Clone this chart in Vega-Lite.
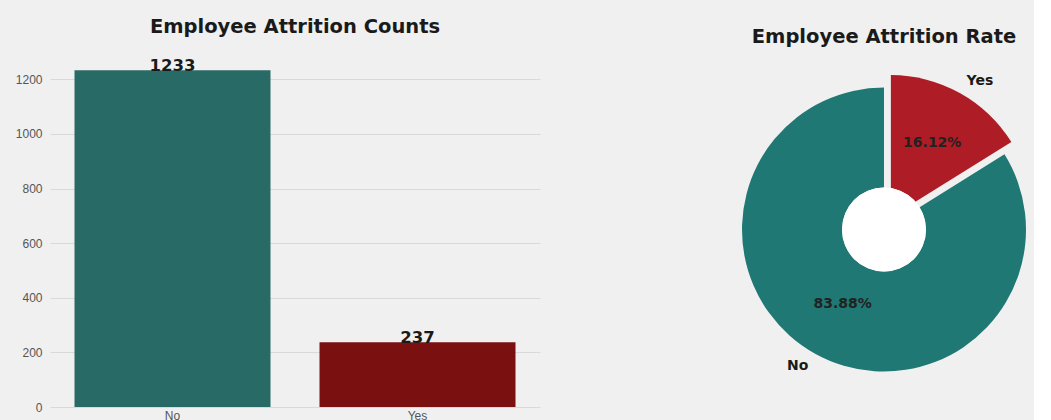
{
  "$schema": "https://vega.github.io/schema/vega-lite/v6.json",
  "background": "#f0f0f0",
  "padding": {"left": 15, "top": 16, "right": 0, "bottom": 0},
  "data": {"values": [
    {"Attrition": "No", "count": 1233, "rate": 0.8388},
    {"Attrition": "Yes", "count": 237, "rate": 0.1612}
  ]},
  "config": {
    "view": {"stroke": null},
    "title": {"font": "DejaVu Sans", "fontSize": 19.5, "fontWeight": "bold", "color": "#1a1a1a", "anchor": "middle"}
  },
  "spacing": 194,
  "hconcat": [
    {
      "title": {"text": "Employee Attrition Counts", "offset": 15},
      "width": 490,
      "height": 355,
      "encoding": {
        "x": {"field": "Attrition", "type": "nominal", "sort": ["No", "Yes"],
          "scale": {"paddingInner": 0.2, "paddingOuter": 0.1},
          "axis": {"title": null, "labelAngle": 0, "ticks": false, "domain": false, "grid": false,
            "labelFont": "Liberation Sans", "labelFontSize": 12, "labelColor": "#555555", "labelPadding": 3}},
        "y": {"field": "count", "type": "quantitative", "scale": {"domain": [0, 1300]},
          "axis": {"title": null, "values": [0, 200, 400, 600, 800, 1000, 1200], "format": "d", "ticks": false, "domain": false,
            "grid": true, "gridColor": "#d9d9d9", "gridWidth": 1.2,
            "labelFont": "Liberation Sans", "labelFontSize": 12, "labelColor": "#555555", "labelPadding": 8}}
      },
      "layer": [
        {"mark": {"type": "bar"},
         "encoding": {"color": {"field": "Attrition", "type": "nominal",
           "scale": {"domain": ["No", "Yes"], "range": ["#286a65", "#7a1010"]}, "legend": null}}},
        {"mark": {"type": "text", "font": "DejaVu Sans", "fontSize": 16.5, "fontWeight": "bold", "color": "#1a1a1a", "baseline": "alphabetic", "dy": 1},
         "encoding": {"text": {"field": "count", "type": "quantitative"}}}
      ]
    },
    {
      "title": {"text": "Employee Attrition Rate", "offset": 5},
      "width": 300,
      "height": 355,
      "transform": [
        {"stack": "count", "groupby": [], "sort": [{"field": "Attrition", "order": "descending"}], "as": ["start", "end"]}
      ],
      "layer": [
        {"transform": [{"filter": "datum.Attrition === 'No'"}],
         "mark": {"type": "arc", "outerRadius": 142, "color": "#1f7874"},
         "encoding": {"theta": {"field": "start", "type": "quantitative", "stack": null, "scale": {"domain": [0, 1470]}}, "theta2": {"field": "end"}}},
        {"transform": [{"filter": "datum.Attrition === 'Yes'"}],
         "mark": {"type": "arc", "outerRadius": 142, "color": "#ae1c25", "xOffset": 6.9, "yOffset": -12.4},
         "encoding": {"theta": {"field": "start", "type": "quantitative", "stack": null}, "theta2": {"field": "end"}}},
        {"mark": {"type": "arc", "outerRadius": 42, "theta": 0, "theta2": 6.2832, "color": "#ffffff"},
         "encoding": {}},
        {"mark": {"type": "text", "radius": 85.2, "xOffset": 6.9, "yOffset": -12.4, "font": "DejaVu Sans", "fontSize": 14, "fontWeight": "bold", "color": "#222222", "align": "center", "baseline": "middle"},
         "encoding": {"theta": {"field": "count", "type": "quantitative", "stack": true},
           "order": {"field": "Attrition", "sort": "descending"},
           "opacity": {"condition": {"test": "datum.Attrition === 'Yes'", "value": 1}, "value": 0},
           "text": {"field": "rate", "type": "quantitative", "format": ".2%"}}},
        {"mark": {"type": "text", "radius": 85.2, "font": "DejaVu Sans", "fontSize": 14, "fontWeight": "bold", "color": "#222222", "align": "center", "baseline": "middle"},
         "encoding": {"theta": {"field": "count", "type": "quantitative", "stack": true},
           "order": {"field": "Attrition", "sort": "descending"},
           "opacity": {"condition": {"test": "datum.Attrition === 'No'", "value": 1}, "value": 0},
           "text": {"field": "rate", "type": "quantitative", "format": ".2%"}}},
        {"mark": {"type": "text", "radius": 156, "xOffset": 6.9, "yOffset": -12.4, "font": "DejaVu Sans", "fontSize": 14, "fontWeight": "bold", "color": "#1a1a1a", "align": "left", "baseline": "middle"},
         "encoding": {"theta": {"field": "count", "type": "quantitative", "stack": true},
           "order": {"field": "Attrition", "sort": "descending"},
           "opacity": {"condition": {"test": "datum.Attrition === 'Yes'", "value": 1}, "value": 0},
           "text": {"field": "Attrition", "type": "nominal"}}},
        {"mark": {"type": "text", "radius": 156, "font": "DejaVu Sans", "fontSize": 14, "fontWeight": "bold", "color": "#1a1a1a", "align": "right", "baseline": "middle"},
         "encoding": {"theta": {"field": "count", "type": "quantitative", "stack": true},
           "order": {"field": "Attrition", "sort": "descending"},
           "opacity": {"condition": {"test": "datum.Attrition === 'No'", "value": 1}, "value": 0},
           "text": {"field": "Attrition", "type": "nominal"}}}
      ]
    }
  ]
}
